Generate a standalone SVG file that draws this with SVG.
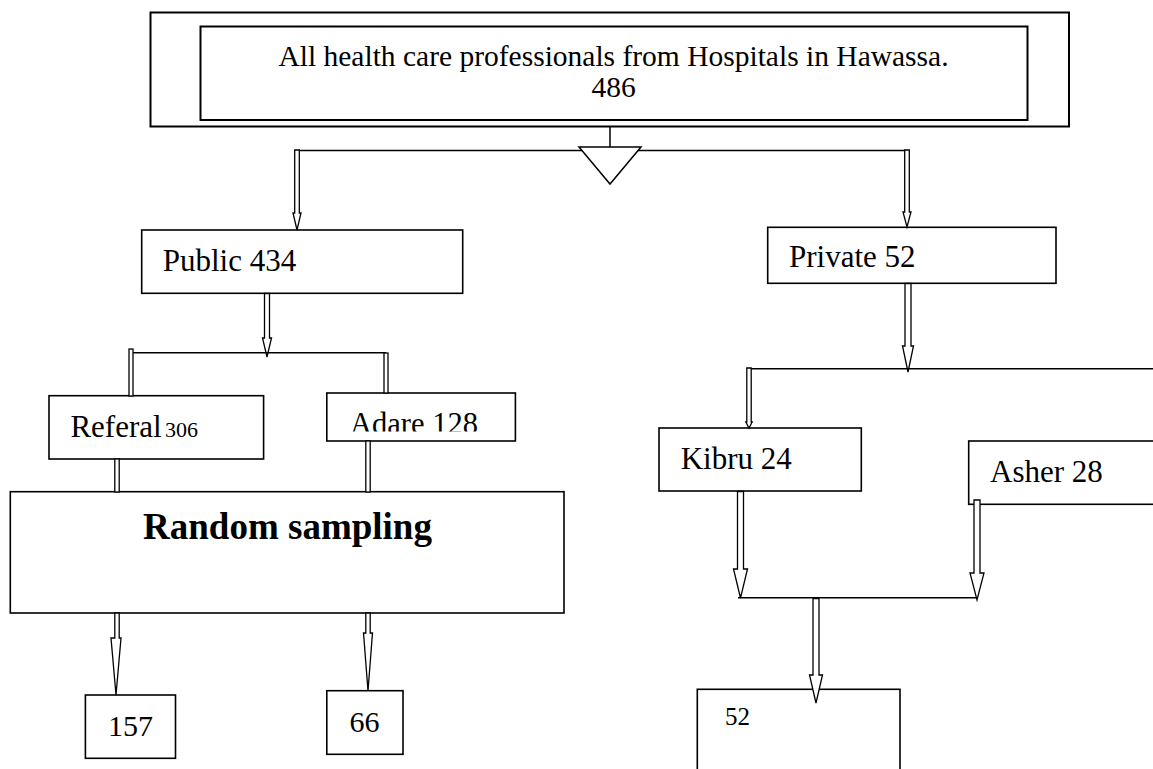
<svg xmlns="http://www.w3.org/2000/svg" width="1153" height="769" viewBox="0 0 1153 769">
<style>
.box{fill:#fff;stroke:#000;stroke-width:1.6}
.ln{fill:none;stroke:#000;stroke-width:1.5}
.arr{fill:#fff;stroke:#000;stroke-width:1.3;stroke-linejoin:miter}
.t{font-family:"Liberation Serif","Times New Roman",serif;fill:#000}
</style>
<defs>
<clipPath id="clipAdare"><rect x="327" y="394" width="188" height="37.5"/></clipPath>
</defs>
<rect width="1153" height="769" fill="#fff"/>
<g id="node-top">
<rect class="box" x="150.5" y="12.5" width="918.5" height="114" style="stroke-width:2"/>
<rect class="box" x="200.5" y="26.5" width="827" height="93.5" style="stroke-width:2"/>
<text class="t" x="613.5" y="66" font-size="29.5" text-anchor="middle">All health care professionals from Hospitals in Hawassa.</text>
<text class="t" x="613.5" y="97" font-size="29.5" text-anchor="middle">486</text>
</g>
<g id="node-public">
<rect class="box" x="141.7" y="230" width="321" height="63.3"/>
<text class="t" x="162.7" y="271" font-size="31">Public 434</text>
</g>
<g id="node-private">
<rect class="box" x="767.7" y="227.3" width="288.3" height="56"/>
<text class="t" x="789" y="267.3" font-size="31">Private 52</text>
</g>
<g id="node-referal">
<rect class="box" x="49" y="395.7" width="214.6" height="63.3"/>
<text class="t" x="70.4" y="437.3" font-size="31">Referal<tspan font-size="22" dx="-2"> 306</tspan></text>
</g>
<g id="node-adare">
<rect class="box" x="326.8" y="393" width="188.6" height="48"/>
<text class="t" x="350" y="433.5" font-size="30.5" clip-path="url(#clipAdare)">Adare 128</text>
</g>
<g id="node-kibru">
<rect class="box" x="659" y="428" width="202.3" height="63"/>
<text class="t" x="680.7" y="469.3" font-size="31">Kibru 24</text>
</g>
<g id="node-asher">
<rect class="box" x="968.7" y="441" width="250" height="63.3"/>
<text class="t" x="990" y="481.7" font-size="31">Asher 28</text>
</g>
<g id="node-random">
<rect class="box" x="10.3" y="491.7" width="553.7" height="121.3"/>
<text class="t" x="287.5" y="539.3" font-size="37" font-weight="bold" text-anchor="middle">Random sampling</text>
</g>
<g id="node-157">
<rect class="box" x="85.4" y="695" width="90.1" height="63.3"/>
<text class="t" x="130.5" y="736" font-size="30" text-anchor="middle">157</text>
</g>
<g id="node-66">
<rect class="box" x="326.8" y="690.7" width="76.2" height="63.6"/>
<text class="t" x="364.5" y="731.7" font-size="30" text-anchor="middle">66</text>
</g>
<g id="node-52">
<rect class="box" x="697.3" y="689.3" width="202.7" height="120"/>
<text class="t" x="725" y="725" font-size="25">52</text>
</g>
<g id="connectors">
<line class="ln" x1="610" y1="127" x2="610" y2="147"/>
<line class="ln" x1="299" y1="150.5" x2="905" y2="150.5"/>
<polygon class="arr" points="579,147 641,147 610,184" style="stroke-width:1.5"/>
<polygon class="arr" points="294.7,150 299.3,150 299.3,213 301,213 297,230 293,213 294.7,213"/>
<polygon class="arr" points="904.7,150 909.3,150 909.3,212 911,212 907,227 903,212 904.7,212"/>
<polygon class="arr" points="264.5,293.5 269.5,293.5 269.5,338 271.5,338 267,357 262.5,338 264.5,338"/>
<line class="ln" x1="133" y1="352.7" x2="386" y2="352.7"/>
<rect class="arr" x="129" y="349" width="4" height="47"/>
<rect class="arr" x="384" y="353" width="4" height="40"/>
<rect class="arr" x="114.8" y="459" width="4.4" height="33"/>
<rect class="arr" x="365.8" y="441" width="4.4" height="51"/>
<polygon class="arr" points="114.8,613 119.2,613 119.2,638 121,638 116,695 111,638 114.8,638"/>
<polygon class="arr" points="365.8,613 370.2,613 370.2,633 372.5,633 368,691 363.5,633 365.8,633"/>
<polygon class="arr" points="905,283.5 911,283.5 911,346 913.5,346 908,372 902.5,346 905,346"/>
<line class="ln" x1="751" y1="368.7" x2="1153" y2="368.7"/>
<polygon class="arr" points="746.8,368 751.2,368 751.2,422 752.2,422 749,428 745.8,422 746.8,422"/>
<polygon class="arr" points="737.5,491.5 743.5,491.5 743.5,569 747.5,569 740.5,598 733.5,569 737.5,569"/>
<polygon class="arr" points="974,500 980,500 980,573 984,573 977,600 970,573 974,573"/>
<line class="ln" x1="738" y1="597.7" x2="977" y2="597.7"/>
<polygon class="arr" points="813,598.5 819,598.5 819,675 822.5,675 816,703 809.5,675 813,675"/>
</g>
</svg>
